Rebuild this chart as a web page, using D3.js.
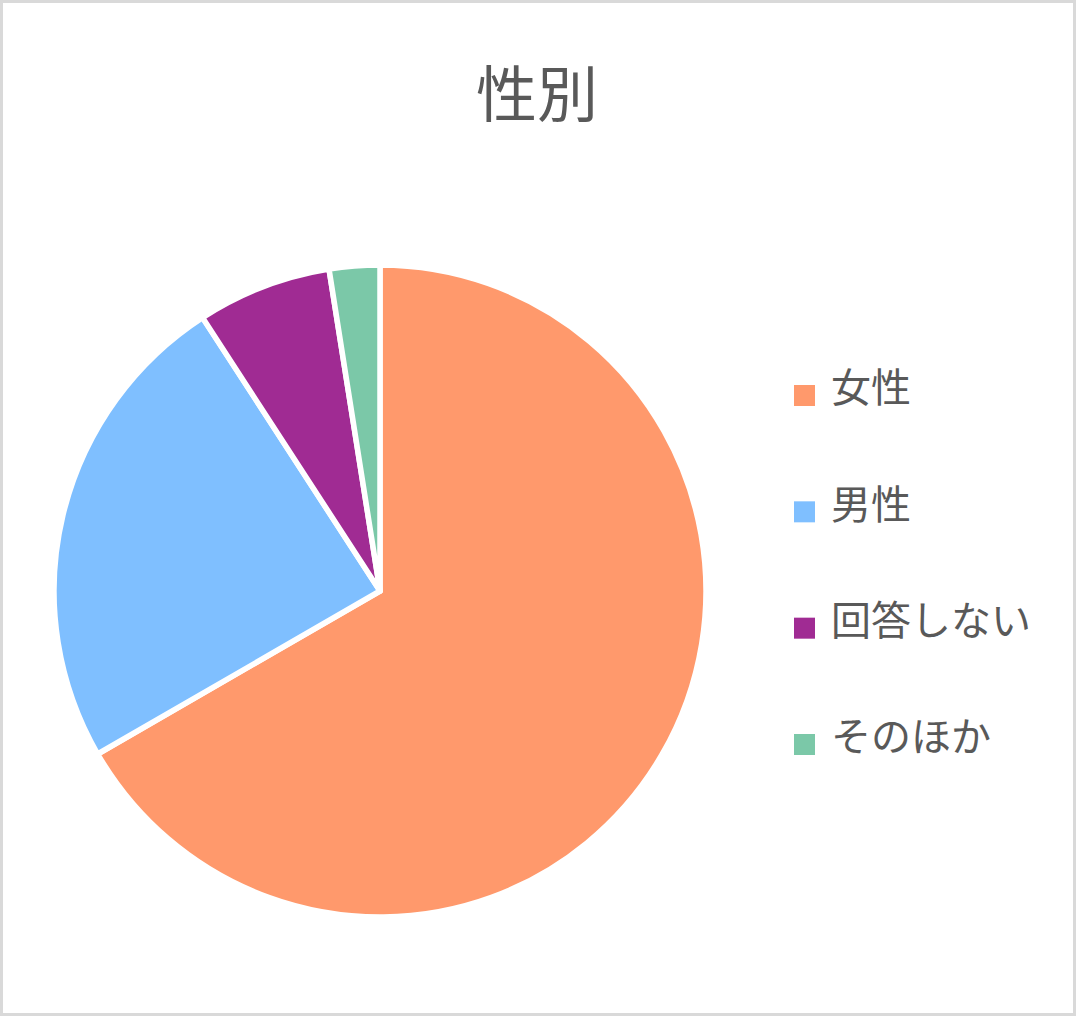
<!DOCTYPE html>
<html><head><meta charset="utf-8">
<script src="https://cdn.jsdelivr.net/npm/d3@7"></script>
<style>html,body{margin:0;padding:0;background:#fff;}svg{display:block;}</style>
</head><body>
<script>
const categories = ["女性", "男性", "回答しない", "そのほか"];
const values = [80, 29, 8, 3];
const colors = ["#FF996C", "#7FBFFF", "#A02B93", "#7BC8A8"];
const title = "性別";

const W = 1077, H = 1017;
const svg = d3.select("body").append("svg").attr("width", W).attr("height", H);
svg.append("rect").attr("x", 1.5).attr("y", 1.5).attr("width", W - 4).attr("height", H - 4)
  .attr("fill", "#fff").attr("stroke", "#d9d9d9").attr("stroke-width", 3);

svg.append("text").attr("x", 537).attr("y", 117).attr("text-anchor", "middle")
  .attr("font-family", "'Noto Sans CJK JP'").attr("font-size", 61).attr("fill", "#595959").text(title);

const data = categories.map((c, i) => ({c, v: values[i], col: colors[i]}));
const pie = d3.pie().value(d => d.v).sort(null);
const arc = d3.arc().innerRadius(0).outerRadius(326);
const g = svg.append("g").attr("transform", "translate(380,591)");
g.selectAll("path").data(pie(data)).join("path").attr("d", arc)
  .attr("fill", d => d.data.col).attr("stroke", "#fff").attr("stroke-width", 5.5).attr("stroke-linejoin", "round");

const ly = d3.scalePoint().domain(categories).range([395, 744]);
const lg = svg.append("g");
const items = lg.selectAll("g").data(data).join("g").attr("transform", d => `translate(794,${ly(d.c)})`);
items.append("rect").attr("x", 0).attr("y", -10).attr("width", 21).attr("height", 21).attr("fill", d => d.col);
items.append("text").attr("x", 37).attr("y", -7).attr("dy", "0.36em")
  .attr("font-family", "'Noto Sans CJK JP'").attr("font-size", 40).attr("fill", "#595959").text(d => d.c);
</script>
</body></html>
